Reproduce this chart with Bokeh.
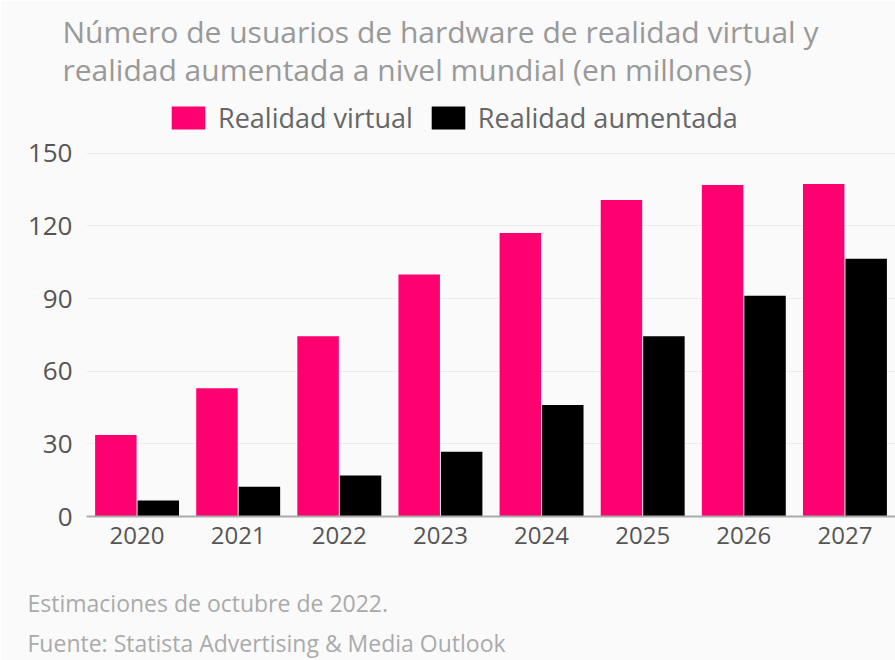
from bokeh.plotting import figure
from bokeh.models import ColumnDataSource, Legend, LegendItem, FactorRange, Title
from bokeh.transform import dodge
from bokeh.embed import file_html
from bokeh.resources import INLINE

years = ["2020", "2021", "2022", "2023", "2024", "2025", "2026", "2027"]
vr = [33.7, 53.0, 74.4, 99.9, 117.1, 130.7, 136.9, 137.3]
ar = [6.6, 12.3, 16.9, 26.7, 46.0, 74.4, 91.2, 106.4]
y_ticks = [0, 30, 60, 90, 120, 150]
series_names = ["Realidad virtual", "Realidad aumentada"]
series_colors = ["#ff0070", "#000000"]
title_lines = [
    "Número de usuarios de hardware de realidad virtual y",
    "realidad aumentada a nivel mundial (en millones)",
]
footer_lines = [
    "Estimaciones de octubre de 2022.",
    "Fuente: Statista Advertising & Media Outlook",
]

FONT = "Open Sans"
BG = "#fafafa"

# frame: left 86, top 95, bottom 518 -> 150 units span 365 px, frame extends above 150
FRAME_TOP, FRAME_BOTTOM, H = 95, 518, 660
y_end = 150 * (FRAME_BOTTOM - FRAME_TOP) / 365.0

src = ColumnDataSource(dict(year=years, vr=vr, ar=ar))
p = figure(
    x_range=FactorRange(*years), y_range=(0, y_end),
    width=895, height=H, output_backend="svg", toolbar_location=None,
    min_border_left=86, min_border_right=0,
    min_border_top=FRAME_TOP, min_border_bottom=H - FRAME_BOTTOM,
    background_fill_color=BG, border_fill_color=BG, outline_line_color=None,
)
p.title.visible = False
r1 = p.vbar(x=dodge("year", -0.21, range=p.x_range), top="vr", width=0.41,
            source=src, fill_color=series_colors[0], line_color=None)
r2 = p.vbar(x=dodge("year", 0.21, range=p.x_range), top="ar", width=0.41,
            source=src, fill_color=series_colors[1], line_color=None)

p.xgrid.grid_line_color = None
p.ygrid.grid_line_color = "#ececec"
p.ygrid.grid_line_width = 1

p.xaxis.axis_line_color = "#aaaaaa"
p.xaxis.axis_line_width = 2
p.xaxis.major_tick_line_color = None
p.xaxis.minor_tick_line_color = None
p.xaxis.major_label_text_font = FONT
p.xaxis.major_label_text_font_size = "24px"
p.xaxis.major_label_text_color = "#555555"
p.xaxis.major_label_standoff = 4

p.yaxis.axis_line_color = None
p.yaxis.major_tick_line_color = None
p.yaxis.minor_tick_line_color = None
p.yaxis.ticker = y_ticks
p.yaxis.major_label_text_font = FONT
p.yaxis.major_label_text_font_size = "26px"
p.yaxis.major_label_text_color = "#555555"
p.yaxis.major_label_standoff = 8

legend = Legend(
    items=[LegendItem(label=series_names[0], renderers=[r1]),
           LegendItem(label=series_names[1], renderers=[r2])],
    orientation="horizontal", location=(81, 380),
    glyph_width=42, glyph_height=29,
    label_text_font=FONT, label_text_font_size="27px", label_text_color="#666666",
    label_standoff=9, spacing=14, padding=0, margin=0,
    border_line_color=None, background_fill_alpha=0,
)
p.add_layout(legend)

p.add_layout(Title(text="\n".join(title_lines), align="left", offset=-24,
                   text_font=FONT, text_font_size="30px", text_font_style="normal",
                   text_color="#999999", text_line_height=0.93,
                   vertical_align="bottom", standoff=10), "above")

p.add_layout(Title(text="\n" + "\n".join(footer_lines), align="left", offset=-59,
                   text_font=FONT, text_font_size="23px", text_font_style="normal",
                   text_color="#aaaaaa", text_line_height=1.25,
                   vertical_align="top", standoff=0), "below")

open("out.html", "w").write(file_html(p, INLINE))
